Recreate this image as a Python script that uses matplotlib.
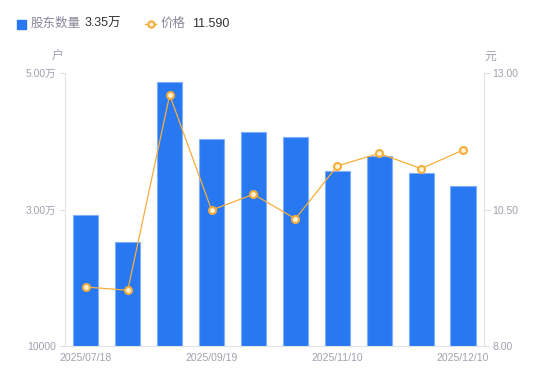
import matplotlib.pyplot as plt

plt.rcParams["font.family"] = ["Liberation Sans", "Noto Sans CJK SC", "DejaVu Sans"]

# data
dates = ["2025/07/18", "2025/07/31", "2025/08/29", "2025/09/19", "2025/09/30",
         "2025/10/20", "2025/11/10", "2025/11/20", "2025/11/28", "2025/12/10"]
holders = [29190, 25240, 48720, 40290, 41310, 40670, 35640, 37840, 35300, 33520]
price = [9.08, 9.02, 12.60, 10.49, 10.78, 10.33, 11.30, 11.53, 11.25, 11.59]

left_ticks = [10000, 30000, 50000]
left_labels = ["10000", "3.00万", "5.00万"]
right_ticks = [8.0, 10.5, 13.0]
right_labels = ["8.00", "10.50", "13.00"]
shown = [0, 3, 6, 9]

BLUE = "#2878f2"
ORANGE = "#f7ad3c"
GRAY = "#a0a0b0"
AXIS = "#e2e2e6"

fig = plt.figure(figsize=(5.5, 3.81), dpi=100)
ax = fig.add_axes([0.118, 0.092, 0.762, 0.716])
x = list(range(len(dates)))

ax.bar(x, holders, width=0.6, color=BLUE, edgecolor="#7fb0f7", linewidth=0.8, zorder=2)
ax.set_xlim(-0.5, len(dates) - 0.5)
ax.set_ylim(10000, 50000)
ax.set_yticks(left_ticks)
ax.set_yticklabels(left_labels)
ax.set_xticks([x[i] for i in shown])
ax.set_xticklabels([dates[i] for i in shown])

ax2 = ax.twinx()
ax2.plot(x, price, color=ORANGE, linewidth=0.9, marker="o", markersize=5,
         markerfacecolor="#fff3d6", markeredgecolor=ORANGE, markeredgewidth=1.5, zorder=3)
ax2.set_ylim(8, 13)
ax2.set_yticks(right_ticks)
ax2.set_yticklabels(right_labels)

for a in (ax, ax2):
    for s in a.spines.values():
        s.set_visible(False)
    a.tick_params(labelsize=7.5, labelcolor=GRAY, color=AXIS, length=4, width=0.8, pad=2)
ax.spines["left"].set_visible(True)
ax.spines["left"].set_color(AXIS)
ax.spines["bottom"].set_visible(True)
ax.spines["bottom"].set_color(AXIS)
ax2.spines["right"].set_visible(True)
ax2.spines["right"].set_color(AXIS)
ax.tick_params(axis="x", length=0, pad=5)

# unit labels
fig.text(58 / 550, 1 - 57 / 381, "户", fontsize=8.5, color=GRAY, ha="center", va="center")
fig.text(490 / 550, 1 - 57 / 381, "元", fontsize=8.5, color=GRAY, ha="center", va="center")

# legend row
fig.patches.append(plt.Rectangle((17 / 550, 1 - 29 / 381), 9 / 550, 9 / 381,
                                 transform=fig.transFigure, color=BLUE))
fig.text(31 / 550, 1 - 24 / 381, "股东数量", fontsize=9, color="#888899", va="center")
fig.text(85 / 550, 1 - 24 / 381, "%.2f万" % (holders[-1] / 10000), fontsize=9, color="#333333", va="center")
fig.lines.append(plt.Line2D([145 / 550, 156 / 550], [1 - 24 / 381, 1 - 24 / 381],
                            transform=fig.transFigure, color=ORANGE, linewidth=1,
                            marker="o", markevery=[0], markersize=0))
fig.lines.append(plt.Line2D([150.5 / 550], [1 - 24 / 381], transform=fig.transFigure,
                            color=ORANGE, marker="o", markersize=4.5,
                            markerfacecolor="#fff3d6", markeredgewidth=1.5))
fig.text(161 / 550, 1 - 24 / 381, "价格", fontsize=9, color="#888899", va="center")
fig.text(192 / 550, 1 - 24 / 381, "%.3f" % price[-1], fontsize=9, color="#333333", va="center")

fig.savefig("out.png", dpi=100)
